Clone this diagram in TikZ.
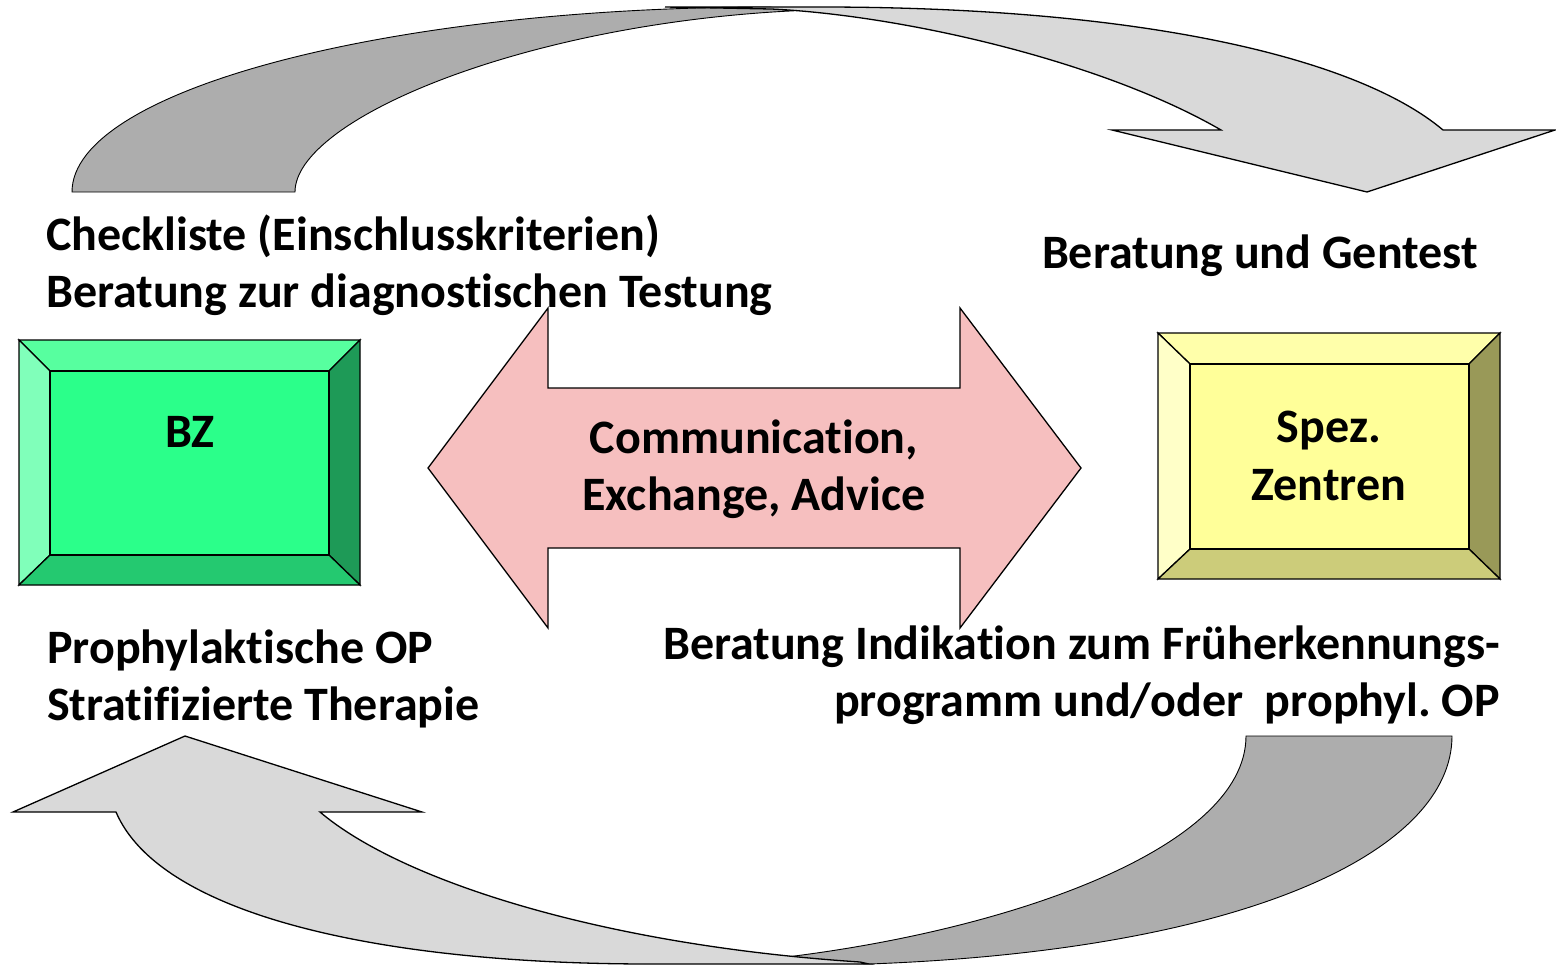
\documentclass[tikz,border=0pt]{standalone}
\usepackage{fontspec}
\setmainfont{Carlito}[Ligatures={NoCommon}]
\definecolor{dkgray}{HTML}{ADADAD}
\definecolor{ltgray}{HTML}{D9D9D9}
\definecolor{pinkfill}{HTML}{F6BFBF}
\definecolor{gC}{HTML}{2BFF8A}
\definecolor{gT}{HTML}{57FF9F}
\definecolor{gL}{HTML}{80FFBA}
\definecolor{gR}{HTML}{1E9A57}
\definecolor{gB}{HTML}{24C970}
\definecolor{yC}{HTML}{FFFF99}
\definecolor{yT}{HTML}{FFFFAA}
\definecolor{yL}{HTML}{FFFFC8}
\definecolor{yR}{HTML}{999958}
\definecolor{yB}{HTML}{CCCC7A}
\begin{document}
\begin{tikzpicture}[x=1pt,y=-1pt,
  outl/.style={draw=black,line width=1.3pt,line join=miter},
  thinout/.style={draw=black,line width=0.9pt},
  lbl/.style={font=\fontsize{48}{57}\selectfont\bfseries,inner sep=0pt}]
\useasboundingbox (0,0) rectangle (1556,966);
% top curved arrow
\path[thinout,fill=dkgray] (72,192) .. controls (72,90) and (390,7) .. (770,7) -- (790,11) .. controls (520,25) and (295,120) .. (295,192) -- cycle;
\path[outl,fill=ltgray] (665,7) -- (820,7) .. controls (1150,7) and (1360,60) .. (1443,130) -- (1555,130) -- (1367,192) -- (1112,130) -- (1221,130) .. controls (1100,60) and (900,15) .. (771,9) -- cycle;
% bottom curved arrow
\path[thinout,fill=dkgray] (1246,736) -- (1452,736) .. controls (1452,850) and (1250,950) .. (869,964) -- (760,960) .. controls (1000,935) and (1246,850) .. (1246,736) -- cycle;
\path[outl,fill=ltgray] (869,964) -- (650,964) .. controls (380,964) and (160,915) .. (116,812) -- (13,812) -- (185,736) -- (422,812) -- (320,812) .. controls (400,880) and (600,945) .. (860,962) -- cycle;
% double arrow
\path[outl,fill=pinkfill] (428,468) -- (548,308) -- (548,388) -- (960,388) -- (960,308) -- (1081,468) -- (960,628) -- (960,548) -- (548,548) -- (548,628) -- cycle;
% green bevel box
\path[outl,fill=gT] (19,340) -- (360,340) -- (329,371) -- (50,371) -- cycle;
\path[outl,fill=gL] (19,340) -- (50,371) -- (50,555) -- (19,585) -- cycle;
\path[outl,fill=gR] (360,340) -- (360,585) -- (329,555) -- (329,371) -- cycle;
\path[outl,fill=gB] (19,585) -- (50,555) -- (329,555) -- (360,585) -- cycle;
\path[outl,fill=gC] (50,371) rectangle (329,555);
% yellow bevel box
\path[outl,fill=yT] (1158,333) -- (1500,333) -- (1469,364) -- (1190,364) -- cycle;
\path[outl,fill=yL] (1158,333) -- (1190,364) -- (1190,549) -- (1158,579) -- cycle;
\path[outl,fill=yR] (1500,333) -- (1500,579) -- (1469,549) -- (1469,364) -- cycle;
\path[outl,fill=yB] (1158,579) -- (1190,549) -- (1469,549) -- (1500,579) -- cycle;
\path[outl,fill=yC] (1190,364) rectangle (1469,549);
% texts
\node[lbl,anchor=base] (bz) at (190,447) {BZ};
\node[lbl,anchor=base] (spez) at (1329,442) {Spez.};
\node[lbl,anchor=base] (zent) at (1329,500) {Zentren};
\node[lbl,anchor=base] (comm) at (754,453) {Communication,};
\node[lbl,anchor=base] (exch) at (754,510) {Exchange, Advice};
\node[lbl,anchor=base west] (chk) at (46,250) {Checkliste (Einschlusskriterien)};
\node[lbl,anchor=base west] (ber) at (46,307) {Beratung zur diagnostischen Testung};
\node[lbl,anchor=base east] (gen) at (1478,268) {Beratung und Gentest};
\node[lbl,anchor=base west] (pro) at (47,663) {Prophylaktische OP};
\node[lbl,anchor=base west] (str) at (47,720) {Stratifizierte Therapie};
\node[lbl,anchor=base east] (ind) at (1500,659) {Beratung Indikation zum Früherkennungs-};
\node[lbl,anchor=base east] (prg) at (1500,716) {programm und/oder\ \ prophyl.\ OP};
\end{tikzpicture}
\end{document}
